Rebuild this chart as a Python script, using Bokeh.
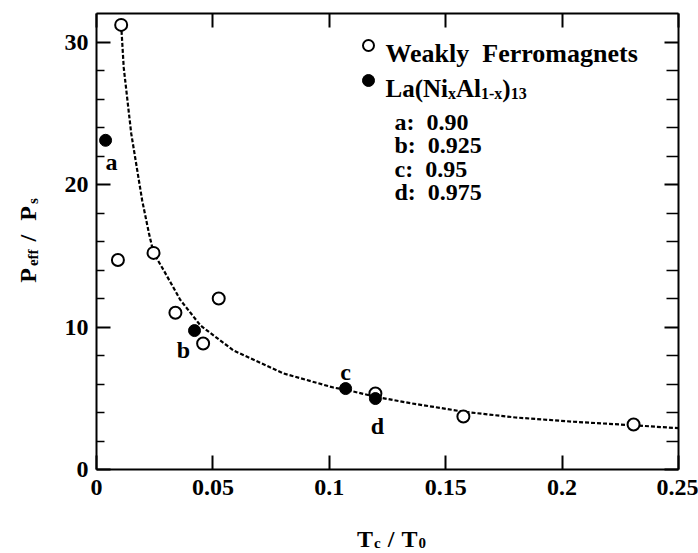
import math
from bokeh.plotting import figure
from bokeh.models import FixedTicker, LinearAxis, Range1d, Label, ColumnDataSource
from bokeh.embed import file_html
from bokeh.resources import INLINE

# ---------------- data ----------------
weak_x = [0.0106, 0.0092, 0.0245, 0.0339, 0.0525, 0.0458, 0.1198, 0.1576, 0.2307]
weak_y = [31.2, 14.7, 15.2, 11.0, 12.0, 8.84, 5.33, 3.72, 3.16]

la_x = [0.0039, 0.0421, 0.107, 0.1198]
la_y = [23.1, 9.75, 5.68, 4.98]
la_names = ["a", "b", "c", "d"]
la_conc = ["0.90", "0.925", "0.95", "0.975"]

curve_x = [0.0106, 0.0117, 0.0149, 0.0196, 0.0225, 0.0245, 0.0288, 0.036, 0.0447,
           0.0589, 0.0803, 0.1018, 0.107, 0.12, 0.135, 0.158, 0.18, 0.205, 0.231, 0.25]
curve_y = [31.2, 28.2, 23.6, 18.9, 16.6, 15.2, 14.0, 11.9, 10.1,
           8.35, 6.74, 5.75, 5.6, 5.1, 4.65, 4.05, 3.65, 3.35, 3.1, 2.9]

x_ticks = [0, 0.05, 0.1, 0.15, 0.2, 0.25]
x_tick_labels = ["0", "0.05", "0.1", "0.15", "0.2", "0.25"]
y_ticks = [0, 10, 20, 30]
y_tick_labels = ["0", "10", "20", "30"]
y_minor = [2, 4, 6, 8, 12, 14, 16, 18, 22, 24, 26, 28]

# ---------------- layout ----------------
W_, H_ = 698, 553
LEFT, RIGHT, TOP, BOTTOM = 96, 678, 13, 469      # plot box in canvas pixels
X0, X1, Y0, Y1 = 0.0, 0.25, 0.0, 32.0            # plot box in data units
sx = (X1 - X0) / (RIGHT - LEFT)
sy = (Y1 - Y0) / (BOTTOM - TOP)
XS, XE = X0 - LEFT * sx, X1 + (W_ - RIGHT) * sx
YS, YE = Y0 - (H_ - BOTTOM) * sy, Y1 + TOP * sy
FONT = "Liberation Serif"

p = figure(width=W_, height=H_, x_range=Range1d(XS, XE), y_range=Range1d(YS, YE),
           output_backend="svg", toolbar_location=None,
           x_axis_location=None, y_axis_location=None, min_border=0)
p.outline_line_color = None
p.background_fill_color = "white"
p.border_fill_color = "white"
p.grid.visible = False


def make_axis(ticks, minor, labels, loc, bounds, minor_in, show_labels, standoff):
    kw = {}
    if labels is not None:
        kw["major_label_overrides"] = dict(zip(ticks, labels))
    ax = LinearAxis(ticker=FixedTicker(ticks=ticks, minor_ticks=minor),
                    fixed_location=loc, bounds=bounds, **kw)
    ax.axis_line_width = 2
    ax.axis_line_color = "black"
    ax.major_tick_in = 14
    ax.major_tick_out = 0
    ax.minor_tick_in = minor_in
    ax.minor_tick_out = 0
    ax.major_tick_line_width = 2
    ax.minor_tick_line_width = 1.5
    ax.major_label_text_font = FONT
    ax.major_label_text_font_style = "bold"
    ax.major_label_text_font_size = "24px"
    ax.major_label_text_color = "black" if show_labels else None
    ax.major_label_standoff = standoff
    return ax


p.add_layout(make_axis(x_ticks, [], x_tick_labels, Y0, (X0, X1), 0, True, 10), "below")
p.add_layout(make_axis(x_ticks, [], None, Y1, (X0, X1), 0, False, 0), "above")
p.add_layout(make_axis(y_ticks, y_minor, y_tick_labels, X0, (Y0, Y1), 8, True, 8), "left")
p.add_layout(make_axis(y_ticks, y_minor, None, X1, (Y0, Y1), 12, False, 0), "right")

# ---------------- glyphs ----------------
p.line(curve_x, curve_y, line_color="black", line_width=2.2, line_dash="4 2")
p.scatter(weak_x, weak_y, marker="circle", size=12, fill_color="white",
          line_color="black", line_width=2)
p.scatter(la_x, la_y, marker="circle", size=12, fill_color="black",
          line_color="black", line_width=1)

# point labels a-d (offsets in screen pixels)
lab_src = ColumnDataSource(dict(x=la_x, y=la_y, t=la_names,
                                dx=[6, -11, 0, 2], dy=[22, 19, -17, 27]))
p.text(x="x", y="y", text="t", x_offset="dx", y_offset="dy", source=lab_src,
       text_font={"value": FONT}, text_font_style="bold", text_font_size="24px",
       text_align="center", text_baseline="middle", text_color="black")

# ---------------- rich text helpers ----------------
ADV = {' ': 250, '\u00a0': 250, '(': 333, ')': 333, '-': 333, '.': 250, '/': 278, ':': 333,
       'A': 722, 'F': 611, 'L': 667, 'N': 722, 'P': 611, 'T': 667, 'W': 1000,
       'a': 500, 'b': 556, 'c': 444, 'd': 556, 'e': 444, 'f': 333, 'g': 500,
       'i': 278, 'k': 556, 'l': 278, 'm': 833, 'n': 556, 'o': 500, 'r': 444,
       's': 389, 't': 333, 'x': 500, 'y': 500}


def tw(s, size):
    return sum(ADV.get(ch, 500) for ch in s) * size / 1000.0


def px2d(X, Y):
    return XS + X * (XE - XS) / W_, YE - Y * (YE - YS) / H_


def rich_width(pieces, gap):
    return sum(tw(t, s) + gap for t, s, _ in pieces) - gap


def rich(X, Y, pieces, angle=0.0, gap=0.0):
    """pieces: (text, size, drop); X,Y = canvas px of baseline start"""
    pos = 0.0
    for text, size, drop in pieces:
        if angle == 0:
            cx, cy = X + pos, Y + drop
        else:
            cx, cy = X + drop, Y - pos
        dx, dy = px2d(cx, cy)
        p.add_layout(Label(x=dx, y=dy, text=text, angle=angle,
                           text_font=FONT, text_font_style="bold",
                           text_font_size=f"{size}px", text_color="black",
                           text_align="left", text_baseline="alphabetic"))
        pos += tw(text, size) + gap


# axis titles
xt_pieces = [("T", 24, 0), ("c", 15, 4), ("\u00a0/\u00a0", 24, 0), ("T", 24, 0), ("0", 15, 4)]
rich(391 - rich_width(xt_pieces, 1) / 2, 538, xt_pieces, gap=1)
yt_pieces = [("P", 24, 0), ("eff", 15, 5), ("\u00a0/\u00a0 ", 24, 0), ("P", 24, 0), ("s", 15, 5)]
rich(27, 240 + rich_width(yt_pieces, 2) / 2, yt_pieces, angle=math.pi / 2, gap=2)

# legend
mk = [px2d(368, 45), px2d(368, 80)]
p.scatter([mk[0][0]], [mk[0][1]], marker="circle", size=11, fill_color="white",
          line_color="black", line_width=2)
p.scatter([mk[1][0]], [mk[1][1]], marker="circle", size=12, fill_color="black",
          line_color="black")
rich(385, 53, [("Weakly\u00a0 Ferromagnets", 26, 0)])
rich(385, 88, [("La(Ni", 25, 0), ("x", 16, 5), ("Al", 25, 0), ("1-x", 16, 5),
               (")", 25, 0), ("13", 16, 5)])
row_y = [121, 144, 168, 191]
for name, conc, yy in zip(la_names, la_conc, row_y):
    rich(394, yy, [(f"{name}:\u00a0 {conc}", 24, 0)])

open("out.html", "w").write(file_html(p, INLINE))
